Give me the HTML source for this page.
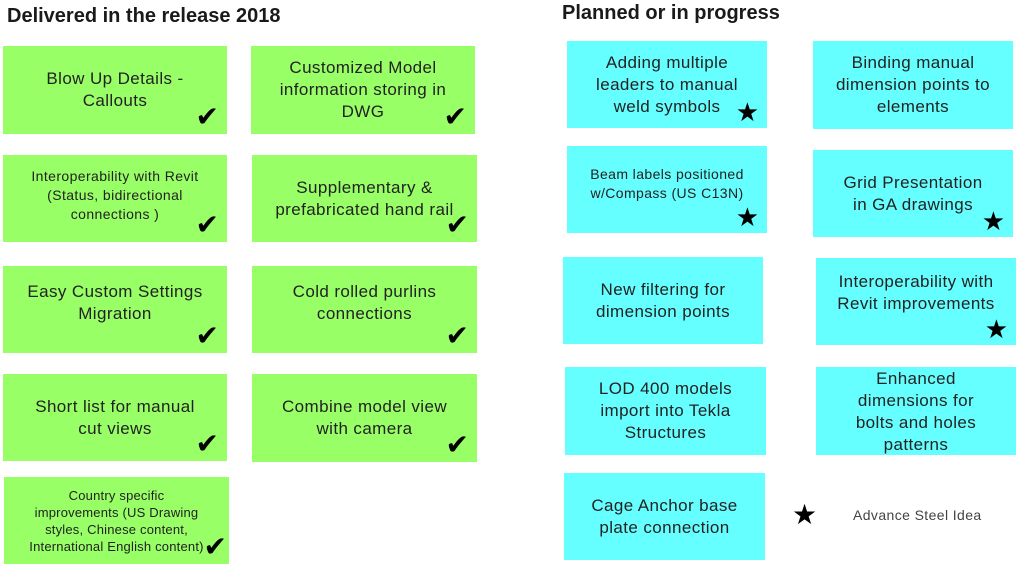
<!DOCTYPE html>
<html><head><meta charset="utf-8"><style>
body{margin:0;width:1024px;height:570px;background:#fff;position:relative;overflow:hidden;font-family:"Liberation Sans",sans-serif;}
.h{position:absolute;font-weight:bold;font-size:20px;color:#1a1a1a;}
.b{position:absolute;display:flex;align-items:center;justify-content:center;text-align:center;color:#222;font-size:17px;line-height:22px;box-sizing:border-box;padding:0 2px;letter-spacing:0.4px;white-space:nowrap;}
.g{background:#99ff66;}
.c{background:#66ffff;}
.s{font-size:14px;line-height:19px;}
.k{position:absolute;right:8px;bottom:2px;font-size:28px;line-height:30px;color:#000;letter-spacing:0;}
.t{position:absolute;right:8px;bottom:2px;font-size:26px;line-height:28px;color:#000;letter-spacing:0;}
</style></head><body>
<div class="h" style="left:7px;top:5px">Delivered in the release 2018</div>
<div class="h" style="left:562px;top:2px">Planned or in progress</div>

<div class="b g" style="left:3px;top:46px;width:224px;height:88px">Blow Up Details -<br>Callouts<span class="k">✔</span></div>
<div class="b g" style="left:251px;top:46px;width:224px;height:88px">Customized Model<br>information storing in<br>DWG<span class="k">✔</span></div>
<div class="b g s" style="left:3px;top:155px;width:224px;height:87px;padding-bottom:6px">Interoperability with Revit<br>(Status, bidirectional<br>connections )<span class="k">✔</span></div>
<div class="b g" style="left:252px;top:155px;width:225px;height:87px">Supplementary &amp;<br>prefabricated hand rail<span class="k">✔</span></div>
<div class="b g" style="left:3px;top:266px;width:224px;height:87px;padding-bottom:14px">Easy Custom Settings<br>Migration<span class="k">✔</span></div>
<div class="b g" style="left:252px;top:266px;width:225px;height:87px;padding-bottom:14px">Cold rolled purlins<br>connections<span class="k">✔</span></div>
<div class="b g" style="left:3px;top:374px;width:224px;height:87px">Short list for manual<br>cut views<span class="k">✔</span></div>
<div class="b g" style="left:252px;top:374px;width:225px;height:88px">Combine model view<br>with camera<span class="k">✔</span></div>
<div class="b g" style="left:4px;top:477px;width:225px;height:87px;font-size:13px;line-height:17px;letter-spacing:0.2px">Country specific<br>improvements (US Drawing<br>styles, Chinese content,<br>International English content)<span class="k" style="right:2px">✔</span></div>

<div class="b c" style="left:567px;top:41px;width:200px;height:87px">Adding multiple<br>leaders to manual<br>weld symbols<span class="t">★</span></div>
<div class="b c" style="left:813px;top:41px;width:200px;height:88px">Binding manual<br>dimension points to<br>elements</div>
<div class="b c s" style="left:567px;top:146px;width:200px;height:87px;padding-bottom:12px">Beam labels positioned<br>w/Compass (US C13N)<span class="t">★</span></div>
<div class="b c" style="left:813px;top:150px;width:200px;height:87px">Grid Presentation<br>in GA drawings<span class="t">★</span></div>
<div class="b c" style="left:563px;top:257px;width:200px;height:87px">New filtering for<br>dimension points</div>
<div class="b c" style="left:816px;top:258px;width:200px;height:87px;padding-bottom:18px">Interoperability with<br>Revit improvements<span class="t">★</span></div>
<div class="b c" style="left:565px;top:367px;width:201px;height:88px">LOD 400 models<br>import into Tekla<br>Structures</div>
<div class="b c" style="left:816px;top:367px;width:200px;height:88px;padding-top:2px">Enhanced<br>dimensions for<br>bolts and holes<br>patterns</div>
<div class="b c" style="left:564px;top:473px;width:201px;height:87px">Cage Anchor base<br>plate connection</div>
<div style="position:absolute;left:792px;top:500px;font-size:28px;line-height:30px">★</div>
<div style="position:absolute;left:853px;top:507px;font-size:14px;color:#444;letter-spacing:0.4px">Advance Steel Idea</div>
</body></html>
